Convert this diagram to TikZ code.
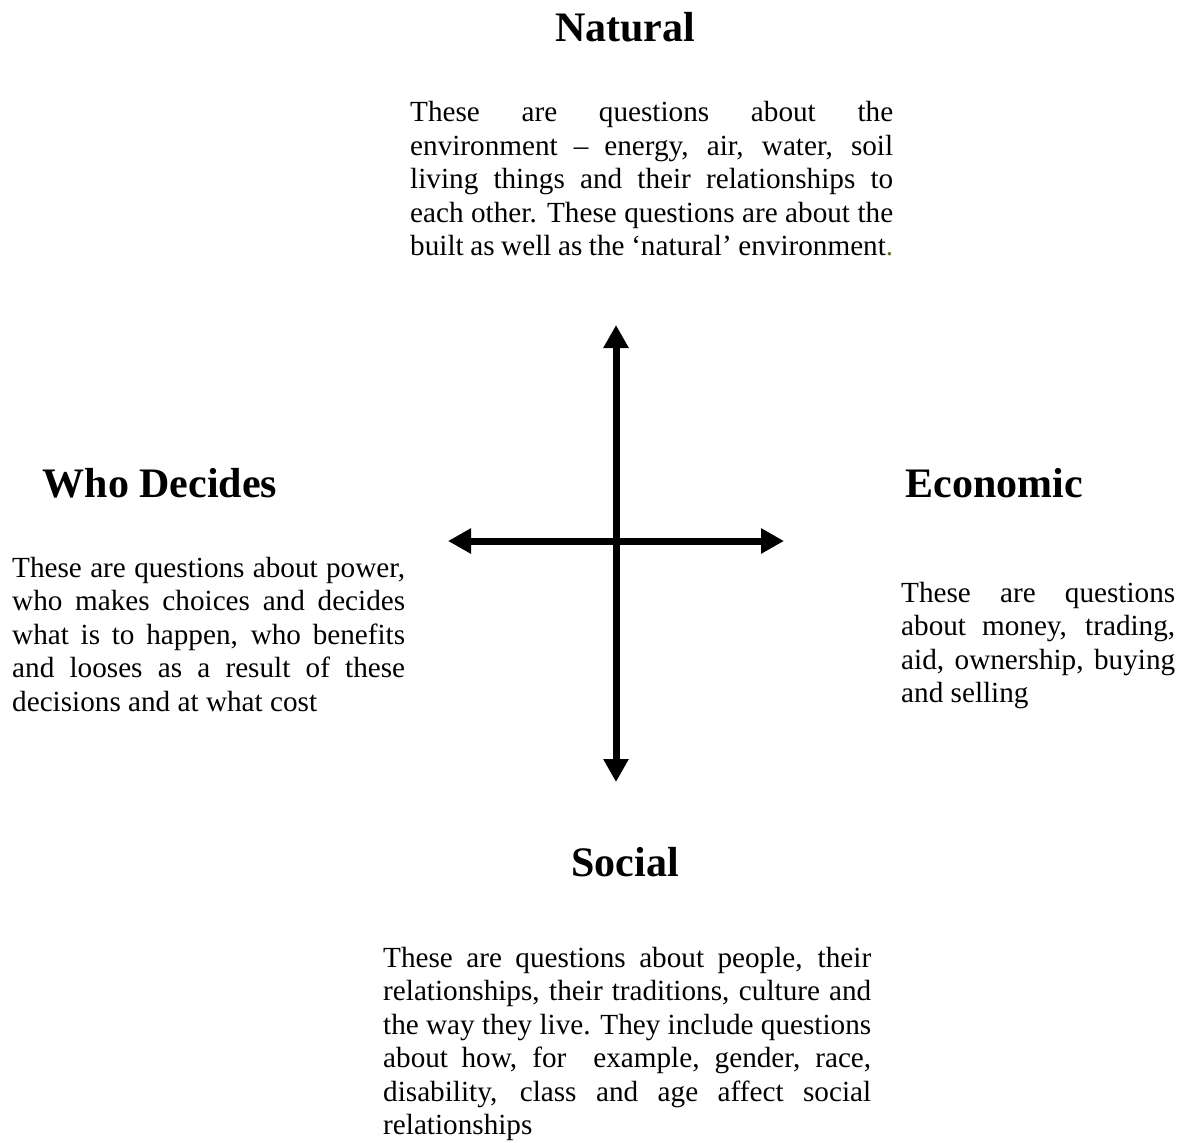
\documentclass[tikz,border=0pt]{standalone}
\usepackage{fontspec}
\setmainfont{Liberation Serif}
\usetikzlibrary{arrows.meta}
\definecolor{dotolive}{RGB}{110,105,30}
\newcommand{\jline}[1]{\makebox[\linewidth][s]{#1}\\}
\tikzset{
  heading/.style={anchor=base, inner sep=0pt, font=\fontsize{42}{48}\selectfont\bfseries},
  para/.style={anchor=base west, inner sep=0pt},
  axis/.style={line width=7pt, {Triangle[width=24pt,length=23pt]}-{Triangle[width=24pt,length=23pt]}}
}
\newcommand{\bodyfont}{\fontsize{29.2}{33.5}\selectfont}
\begin{document}
\begin{tikzpicture}[x=1pt,y=-1pt]
\useasboundingbox (0,0) rectangle (1182,1142);
% headings
\node[heading] (natural) at (625,42) {Natural};
\node[heading] (who) at (160,497) {Who Decides};
\node[heading] (econ) at (994,497) {Economic};
\node[heading] (social) at (625,876) {Social};
% paragraphs
\node[para] (ptop) at (410,122) {\parbox[t]{483pt}{\bodyfont\setlength{\parindent}{0pt}%
\jline{These are questions about the}
\jline{environment -- energy, air, water, soil}
\jline{living things and their relationships to}
\jline{each other. These questions are about the}
built as well as the `natural' environment{\color{dotolive}.}}};
\node[para] (pleft) at (12,577) {\parbox[t]{393pt}{\bodyfont\setlength{\parindent}{0pt}%
\jline{These are questions about power,}
\jline{who makes choices and decides}
\jline{what is to happen, who benefits}
\jline{and looses as a result of these}
decisions and at what cost}};
\node[para] (pright) at (901,602) {\parbox[t]{274pt}{\bodyfont\setlength{\parindent}{0pt}%
\jline{These are questions}
\jline{about money, trading,}
\jline{aid, ownership, buying}
and selling}};
\node[para] (pbot) at (383,967) {\parbox[t]{488pt}{\bodyfont\setlength{\parindent}{0pt}%
\jline{These are questions about people, their}
\jline{relationships, their traditions, culture and}
\jline{the way they live. They include questions}
\jline{about how, for \ example, gender, race,}
\jline{disability, class and age affect social}
relationships}};
% axes
\coordinate (up) at (616,325);
\coordinate (down) at (616,782);
\coordinate (lft) at (448,541);
\coordinate (rgt) at (784,541);
\draw[axis] (lft) -- (rgt);
\draw[axis] (down) -- (up);
\end{tikzpicture}
\end{document}
